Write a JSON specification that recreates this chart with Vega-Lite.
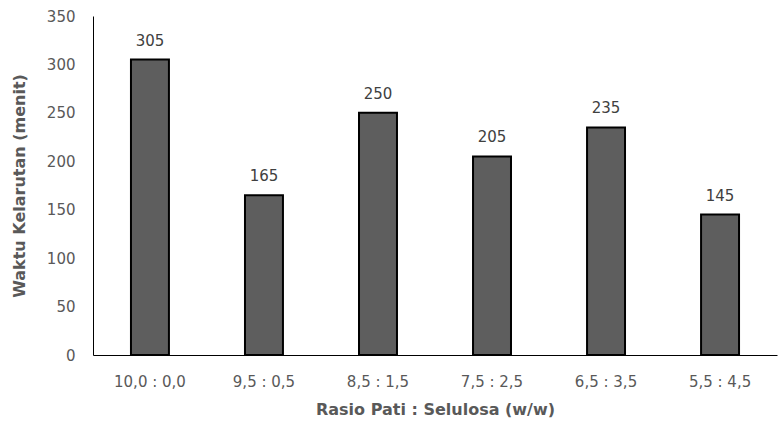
{
  "$schema": "https://vega.github.io/schema/vega-lite/v6.json",
  "width": 684,
  "height": 339,
  "autosize": "none",
  "padding": {"left": 93, "top": 16, "right": 2, "bottom": 72},
  "background": "white",
  "config": {
    "view": {"stroke": null},
    "font": "DejaVu Sans"
  },
  "data": {
    "values": [
      {"rasio": "10,0 : 0,0", "waktu": 305},
      {"rasio": "9,5 : 0,5", "waktu": 165},
      {"rasio": "8,5 : 1,5", "waktu": 250},
      {"rasio": "7,5 : 2,5", "waktu": 205},
      {"rasio": "6,5 : 3,5", "waktu": 235},
      {"rasio": "5,5 : 4,5", "waktu": 145}
    ]
  },
  "encoding": {
    "x": {
      "field": "rasio",
      "type": "nominal",
      "sort": null,
      "scale": {"paddingInner": 0.667, "paddingOuter": 0.333},
      "axis": {
        "title": "Rasio Pati : Selulosa (w/w)",
        "labelAngle": 0,
        "labelFontSize": 15,
        "labelColor": "#595959",
        "labelPadding": 19,
        "ticks": false,
        "domainColor": "#000000",
        "domainWidth": 1,
        "titleFontSize": 16,
        "titleFontWeight": "bold",
        "titleColor": "#595959",
        "titlePadding": 12
      }
    },
    "y": {
      "field": "waktu",
      "type": "quantitative",
      "scale": {"domain": [0, 350]},
      "axis": {
        "title": "Waktu Kelarutan (menit)",
        "values": [0, 50, 100, 150, 200, 250, 300, 350],
        "grid": false,
        "ticks": false,
        "labelFontSize": 15,
        "labelColor": "#595959",
        "labelPadding": 18,
        "domainColor": "#000000",
        "domainWidth": 1,
        "titleFontSize": 16,
        "titleFontWeight": "bold",
        "titleColor": "#595959",
        "titlePadding": 19
      }
    }
  },
  "layer": [
    {
      "mark": {"type": "bar", "fill": "#5e5e5e", "stroke": "#000000", "strokeWidth": 2}
    },
    {
      "mark": {"type": "text", "dy": -19, "fontSize": 15, "color": "#404040"},
      "encoding": {"text": {"field": "waktu", "type": "quantitative"}}
    }
  ]
}
